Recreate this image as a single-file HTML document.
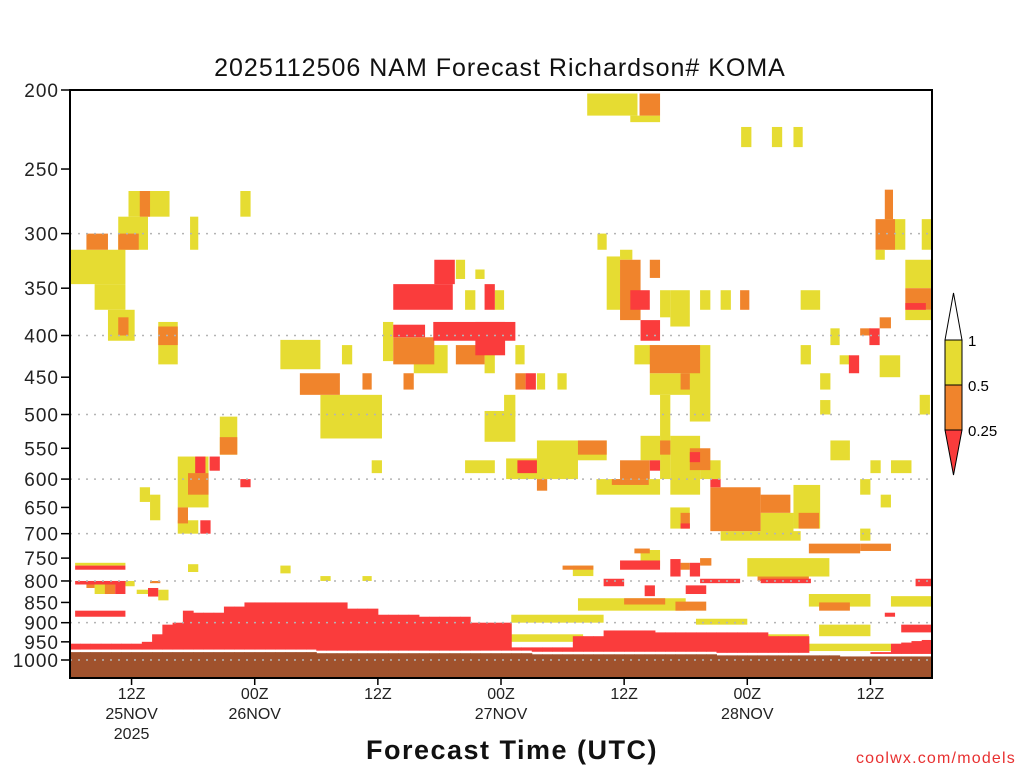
<!DOCTYPE html>
<html><head><meta charset="utf-8"><style>
html,body{margin:0;padding:0;background:#fff;width:1024px;height:768px;overflow:hidden}
svg{display:block}
text{font-family:"Liberation Sans",sans-serif}
</style></head><body>
<svg id="chart" width="1024" height="768" viewBox="0 0 1024 768">
<g id="cells"></g>
<g id="grid"></g>
<g id="axes"></g>
<text x="500" y="76" text-anchor="middle" font-size="25" letter-spacing="1" fill="#111">2025112506 NAM Forecast Richardson# KOMA</text>
<text x="512" y="759" text-anchor="middle" font-size="27" font-weight="bold" letter-spacing="1.5" fill="#111">Forecast Time (UTC)</text>
<text x="1016" y="763" text-anchor="end" font-size="16" letter-spacing="1.2" fill="#e83030">coolwx.com/models</text>
<g>
<polygon points="945,340 962,340 953.5,293" fill="#fff" stroke="#000"/>
<rect x="945" y="340" width="17" height="45" fill="#e6dc32" stroke="#000"/>
<rect x="945" y="385" width="17" height="45" fill="#f0842c" stroke="#000"/>
<polygon points="945,430 962,430 953.5,475" fill="#fa3c3c" stroke="#000"/>
<text x="968" y="346" font-size="15">1</text>
<text x="968" y="391" font-size="15">0.5</text>
<text x="968" y="436" font-size="15">0.25</text>
</g>
</svg>
<script>
// ---- data ----
const pressureTicks = [200,250,300,350,400,450,500,550,600,650,700,750,800,850,900,950,1000];
const gridLevels = [300,400,500,600,700,800,900,1000];
const timeTickHours = [6,18,30,42,54,66,78];
const timeTickLine1 = ["12Z","00Z","12Z","00Z","12Z","00Z","12Z"];
const timeTickLine2 = ["25NOV","26NOV","","27NOV","","28NOV",""];
const timeTickLine3 = ["2025","","","","","",""];
// [startHour, endHour, topHpa, bottomHpa]
const yellowBlobs = [
[50.4,55.3,202,215],[54.6,57.5,215,219],[65.4,66.4,222,235],[68.4,69.4,222,235],[70.5,71.4,222,235],
[5.7,9.7,266,286],[16.6,17.6,266,286],[4.7,7.6,286,314],[11.7,12.5,286,314],
[0,5.4,314,346],[2.4,5.4,346,372],[3.7,6.3,372,406],[8.6,10.5,385,434],
[14.6,16.3,503,560],[10.5,13.5,563,650],[6.8,7.8,614,640],[7.8,8.8,627,674],[10.5,12.5,674,700],
[20.5,24.4,405,440],[24.4,30.4,473,535],[26.5,27.5,411,434],[30.5,31.5,385,430],
[37.6,38.5,323,341],[39.5,40.4,332,341],[38.5,39.5,352,372],[41.4,42.3,352,372],[40.4,41.4,411,445],[43.4,44.3,411,434],[33.5,36.8,411,445],
[45.5,46.3,445,466],[47.5,48.4,445,466],[40.4,43.4,495,540],[42.3,43.4,473,503],
[45.5,52.3,538,569],[38.5,41.4,569,590],[42.5,49.5,566,600],[51.3,57.5,600,627],[29.4,30.4,569,590],
[51.4,52.3,300,314],[52.3,53.6,320,372],[53.6,54.8,314,323],[57.5,58.5,352,380],[55,57.5,411,434],[56.5,61.4,445,473],[58.5,60.4,352,390],[61.4,62.4,352,372],[60.4,62.4,411,510],
[57.5,58.5,473,600],[58.5,61.4,531,627],[61.4,63.4,569,600],[55.6,57.5,531,569],
[70.5,73.1,610,690],[67.3,70.5,660,700],[63.4,71.2,695,714],[58.5,60.4,650,690],
[63.4,64.4,352,372],[71.2,73.1,352,372],[71.2,72.2,411,434],[73.1,74.1,445,466],[73.1,74.1,480,500],[74.1,76,538,569],[74.1,75,392,411],[75,76,423,434],[78.9,80.9,423,450],
[78,79,569,590],[80,82,569,590],[79,80,627,650],[77,78,600,627],[77,78,690,714],
[79.4,81.4,288,314],[78.5,79.4,314,323],[81.4,84,323,350],[81.4,84,372,383],[83,84,288,314],[82.8,83.8,473,500],
[0.5,5.4,760,766],[11.5,12.5,763,780],[20.5,21.5,766,783],[24.4,25.4,789,800],[28.5,29.4,789,800],
[2.4,3.7,800,830],[5.4,6.3,800,812],[6.5,7.6,820,830],[8.6,9.6,820,845],
[49,51,766,789],[55.6,57.5,733,766],[66,74,750,790],[49.5,60,840,870],[72,78,830,860],
[43,52,880,900],[61,66,890,905],[73,78,905,935],[60,72,930,945],[35,50,930,950],[72,80,955,975],[80,84,835,860]
];
const orangeBlobs = [
[55.5,57.5,202,215],[6.8,7.8,266,286],[1.6,3.7,300,314],[4.7,6.7,300,314],[4.7,5.7,380,400],[8.6,10.5,390,411],
[14.6,16.3,533,560],[11.5,13.5,590,627],[10.5,11.5,650,680],
[22.4,26.3,445,473],[28.5,29.4,445,466],[31.5,35.5,402,434],[37.6,40.4,411,434],[32.5,33.5,445,466],[43.4,44.4,445,466],
[49.5,52.3,538,560],[45.5,46.5,600,620],[52.8,56.4,600,610],
[53.6,55.6,323,383],[56.5,57.5,323,340],[56.5,61.4,411,445],[59.5,60.4,445,466],[57.5,58.5,538,560],
[53.6,56.5,569,600],[60.4,62.4,550,585],
[62.4,67.3,614,695],[67.3,70.2,627,660],[71,73,660,690],[59.5,60.4,660,690],
[65.3,66.2,352,372],[79.4,80.2,265,288],[78.5,80.4,288,314],[81.4,84,350,372],[77,78,392,400],[78.9,80,380,392],
[1.6,2.4,800,816],[3.4,4.4,800,830],[7.8,8.8,800,805],[48,51,766,775],[55,56.5,730,740],[59.5,60.4,760,775],[61.4,62.5,750,766],
[72,77,720,740],[77,80,720,735],[67,72,790,800],[54,58,840,855],[59,62,848,870],[73,76,850,870]
];
const redBlobs = [
[31.5,37.3,346,372],[35.5,37.5,323,346],[40.4,41.4,346,372],[31.5,34.6,388,402],[35.4,43.4,385,406],[39.5,42.4,385,423],
[44.4,45.4,445,466],[43.6,45.5,569,590],[12.2,13.2,563,590],[13.6,14.6,563,586],[16.6,17.6,600,614],[12.7,13.7,674,700],
[55.6,57.5,383,406],[54.6,56.5,352,372],[60.4,61.4,556,572],[56.5,57.5,569,586],[62.4,63.4,600,614],[59.5,60.4,680,690],
[77.9,78.9,392,411],[75.9,76.9,423,445],[81.4,83.4,365,372],
[0.5,5.4,766,775],[0.5,5.4,800,808],[4.4,5.4,800,830],[7.6,8.6,816,836],[0.5,5.4,870,885],
[53.6,57.5,755,775],[58.5,59.5,752,790],[60.4,61.4,760,790],[61.4,65.3,795,805],[67.3,72.2,795,805],[52,54,795,812],[56,57,810,835],[60,62,810,830],
[79.4,80.4,875,885],[82.4,84,795,812],[81,84,905,925]
];
// per-hour top of low-level red (stable) layer, hPa
const redMassTop = [955,955,955,955,955,955,955,950,930,905,900,870,875,875,875,860,860,850,850,850,850,850,850,850,850,850,850,865,865,865,880,880,880,880,885,885,885,885,885,900,900,900,900,965,965,965,965,965,965,935,935,935,920,920,920,920,920,925,925,925,925,925,925,925,925,925,925,925,935,935,935,935,999,999,999,999,999,999,978,978,955,952,948,945];
// per-hour ground surface pressure, hPa
const groundTop = [978,978,978,978,978,978,978,978,978,978,978,978,978,978,978,978,978,978,978,978,978,978,978,978,981,981,981,981,981,981,981,981,981,981,981,981,981,981,981,981,981,981,981,981,981,984,984,984,984,984,984,984,984,984,984,984,984,984,984,984,984,984,984,987,987,987,987,987,987,987,987,987,987,987,987,990,990,990,990,990,990,990,990,990,990];

// ---- scales ----
const X0=70, X1=932, Y0=90, Y1=678, HOURS=84;
const PX_PER_LN = (660-90)/Math.log(1000/200);
function xOf(h){ return X0 + (X1-X0)*h/HOURS; }
function yOf(p){ return Y0 + PX_PER_LN*Math.log(p/200); }
const NS='http://www.w3.org/2000/svg';
function mk(tag, attrs, parent){ const e=document.createElementNS(NS,tag); for(const k in attrs) e.setAttribute(k,attrs[k]); parent.appendChild(e); return e; }

const cells=document.getElementById('cells');
groundTop.forEach((p,h)=>{
  if(h>=HOURS) return;
  const r=mk('rect',{x:xOf(h),y:yOf(p),width:xOf(h+1)-xOf(h)+0.5,height:Y1-yOf(p),fill:'#a0522d'},cells);
  
  
});
function drawBlobs(list,color,name){
  list.forEach(b=>{
    const r=mk('rect',{x:xOf(b[0]),y:yOf(b[2]),width:xOf(b[1])-xOf(b[0]),height:yOf(b[3])-yOf(b[2]),fill:color},cells);
    
    
  });
}
drawBlobs(yellowBlobs,'#e6dc32','ri-cell-0.5-1');
drawBlobs(orangeBlobs,'#f0842c','ri-cell-0.25-0.5');
redMassTop.forEach((p,h)=>{
  const bot=groundTop[h]-7;
  if(p>=bot) return;
  const r=mk('rect',{x:xOf(h),y:yOf(p),width:xOf(h+1)-xOf(h)+0.5,height:yOf(bot)-yOf(p),fill:'#fa3c3c'},cells);
  
  
});
drawBlobs(redBlobs,'#fa3c3c','ri-cell-below-0.25');

const grid=document.getElementById('grid');
gridLevels.forEach(p=>{
  const l=mk('line',{x1:X0,x2:X1,y1:yOf(p),y2:yOf(p),stroke:'#b4b4b4','stroke-width':1.5,'stroke-dasharray':'2,6'},grid);
  
  
});

const axes=document.getElementById('axes');
const frame=mk('rect',{x:X0,y:Y0,width:X1-X0,height:Y1-Y0,fill:'none',stroke:'#000','stroke-width':2},axes);


pressureTicks.forEach(p=>{
  const y=yOf(p);
  const t=mk('line',{x1:X0-9,x2:X0,y1:y,y2:y,stroke:'#000','stroke-width':1.5},axes);
  
  
  const tx=mk('text',{x:X0-11,y:y+7,'text-anchor':'end','font-size':19,'letter-spacing':'1',fill:'#222'},axes);
  tx.textContent=String(p);
  
  
});
timeTickHours.forEach((h,i)=>{
  const x=xOf(h);
  const t=mk('line',{x1:x,x2:x,y1:Y1,y2:Y1+7,stroke:'#000','stroke-width':1.5},axes);
  
  
  [timeTickLine1[i],timeTickLine2[i],timeTickLine3[i]].forEach((s,j)=>{
    if(!s) return;
    const tx=mk('text',{x:x,y:699+j*20,'text-anchor':'middle','font-size':16,fill:'#222'},axes);
    tx.textContent=s;
    
    
  });
});
</script>
</body></html>
